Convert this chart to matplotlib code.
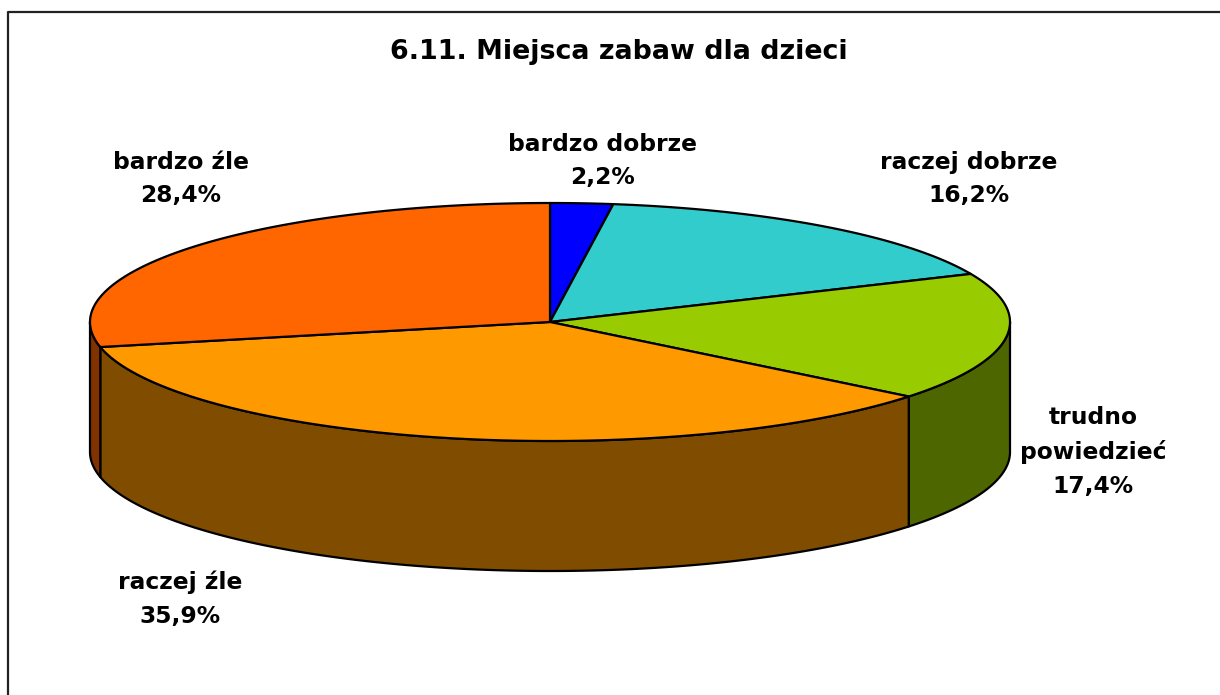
import numpy as np
import matplotlib
matplotlib.use("Agg")
import matplotlib.pyplot as plt
from matplotlib.patches import Polygon

# data (clockwise from 12 o'clock)
labels = ["bardzo dobrze", "raczej dobrze", "trudno\npowiedzieć", "raczej źle", "bardzo źle"]
values = [2.2, 16.2, 17.4, 35.9, 28.4]
top_colors = ["#0000FF", "#33CCCC", "#99CC00", "#FF9900", "#FF6600"]
side_colors = ["#000080", "#1A6666", "#4D6600", "#804D00", "#803300"]
title = "6.11. Miejsca zabaw dla dzieci"

# layout (pixels)
cx, cy = 550, 322
rx, ry = 460, 119
depth = 130
label_pos = [(603, 161), (969, 179), (1093, 452), (180, 599), (181, 179)]

fig = plt.figure(figsize=(12.2, 6.95), dpi=100)
ax = fig.add_axes([0, 0, 1, 1])
ax.set_xlim(0, 1220)
ax.set_ylim(695, 0)
ax.axis("off")

# frame (only left and top edges are inside the picture)
ax.plot([8, 8, 1220], [695, 12, 12], color="#222222", lw=1.6, solid_capstyle="butt")


def ell(t, dy=0.0):
    t = np.radians(t)
    return np.column_stack([cx + rx * np.sin(t), cy - ry * np.cos(t) + dy])


total = sum(values)
edges = np.concatenate([[0], np.cumsum(values) / total * 360])

# side walls
for i in range(len(values)):
    s, e = max(edges[i], 90), min(edges[i + 1], 270)
    if e <= s:
        continue
    t = np.linspace(s, e, 200)
    pts = np.vstack([ell(t), ell(t[::-1], depth)])
    ax.add_patch(Polygon(pts, closed=True, facecolor=side_colors[i],
                         edgecolor="black", lw=1.6, joinstyle="round"))

# top faces
for i in range(len(values)):
    t = np.linspace(edges[i], edges[i + 1], 300)
    pts = np.vstack([[cx, cy], ell(t)])
    ax.add_patch(Polygon(pts, closed=True, facecolor=top_colors[i],
                         edgecolor="black", lw=1.6, joinstyle="round"))

# labels
for lab, v, (x, y) in zip(labels, values, label_pos):
    txt = lab + "\n" + f"{v:.1f}".replace(".", ",") + "%"
    ax.text(x, y, txt, ha="center", va="center", fontsize=16.8, fontweight="bold",
            linespacing=1.6, family="DejaVu Sans")

ax.text(619, 52, title, ha="center", va="center", fontsize=19.4, fontweight="bold",
        family="DejaVu Sans")

fig.savefig("out.png", dpi=100)
